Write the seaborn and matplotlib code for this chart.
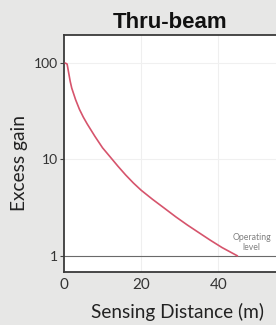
import matplotlib
matplotlib.use("Agg")
import matplotlib.pyplot as plt
import matplotlib.ticker as mticker
import seaborn as sns
import pandas as pd

# values
distance = [0.3, 0.8, 1.2, 1.6, 2, 3, 4, 5, 6, 8, 10, 12, 14, 16, 18, 20,
            23, 26, 29, 32, 35, 38, 41, 45]
gain = [100, 97.7, 79.4, 64.6, 55, 41.7, 33.1, 27.5, 23.4, 17.4, 13.2, 10.6,
        8.5, 6.9, 5.7, 4.8, 3.85, 3.13, 2.54, 2.09, 1.74, 1.45, 1.22, 1.0]
x_ticks = [0, 20, 40]
y_ticks = [1, 10, 100]
y_tick_labels = ["1", "10", "100"]
operating_level = 1

df = pd.DataFrame({"distance": distance, "gain": gain})

sns.set_theme(style="white")
plt.rcParams["font.family"] = ["Lato", "DejaVu Sans"]

fig = plt.figure(figsize=(2.76, 3.25), dpi=100)
fig.patch.set_facecolor("#e7e7e6")
ax = fig.add_axes([0.232, 0.163, 0.768, 0.729])
ax.set_facecolor("white")

ax.set_yscale("log")
ax.set_xlim(0, 55)
ax.set_ylim(0.68, 195)

# light grid
for xv in x_ticks[1:]:
    ax.axvline(xv, color="#efefef", lw=0.8, zorder=0)
for yv in y_ticks[1:]:
    ax.axhline(yv, color="#f0f0f0", lw=0.8, zorder=0)

ax.axhline(operating_level, color="#6a6a6a", lw=0.8, zorder=1)
sns.lineplot(data=df, x="distance", y="gain", ax=ax, color="#d6546c", lw=1.2, zorder=3)

ax.text(48.7, 1.1, "Operating\nlevel", ha="center", va="bottom", fontsize=6.3,
        color="#808080", linespacing=1.15)

ax.set_xticks(x_ticks)
ax.set_yticks(y_ticks)
ax.set_yticklabels(y_tick_labels)
ax.yaxis.set_minor_locator(mticker.NullLocator())
ax.tick_params(axis="y", which="major", left=True, length=3, width=0.8, color="#444444",
               labelsize=10, labelcolor="#333333", pad=1)
ax.tick_params(axis="x", bottom=False, length=0, labelsize=11, labelcolor="#333333", pad=4)

for side in ["left", "bottom", "top"]:
    ax.spines[side].set_color("#3a3a3a")
    ax.spines[side].set_linewidth(1.3)
ax.spines["right"].set_visible(False)

ax.set_xlabel("Sensing Distance (m)", fontsize=13.7, color="#222222")
ax.xaxis.set_label_coords(0.535, -0.13)
ax.set_ylabel("Excess gain", fontsize=13.8, color="#222222")
ax.yaxis.set_label_coords(-0.17, 0.46)
ax.set_title("Thru-beam", fontsize=16, fontweight="bold", color="#111111",
             family="Liberation Sans", pad=5)

fig.savefig("out.png", dpi=100, facecolor=fig.get_facecolor())
